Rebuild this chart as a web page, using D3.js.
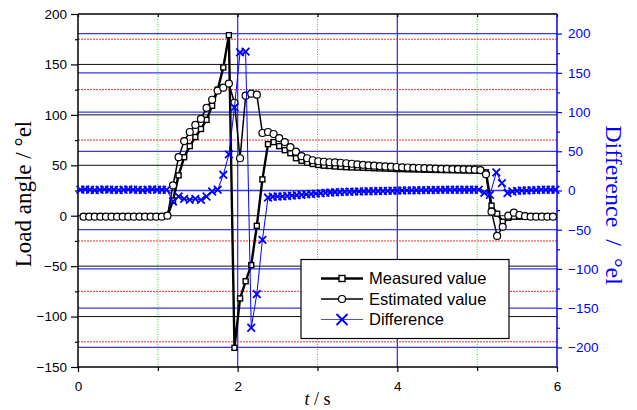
<!DOCTYPE html>
<html>
<head>
<meta charset="utf-8">
<script src="https://cdn.jsdelivr.net/npm/d3@7"></script>
<style>
  html, body { margin: 0; padding: 0; background: #fff; }
  svg { display: block; }
  .sans { font-family: "Liberation Sans", Arial, sans-serif; }
  .serif { font-family: "Liberation Serif", "Times New Roman", serif; }
</style>
</head>
<body>
<svg id="chart" width="637" height="410"></svg>
<script>
// Sample instants of the measured and estimated load angle (s)
const sampleTime = [
  0.07, 0.14, 0.21, 0.28, 0.35, 0.42, 0.49, 0.56, 0.63, 0.70,
  0.77, 0.84, 0.91, 0.98, 1.05, 1.12, 1.19, 1.26, 1.33, 1.40,
  1.47, 1.54, 1.61, 1.68, 1.75, 1.82, 1.89, 1.96, 2.03, 2.10,
  2.17, 2.24, 2.31, 2.38, 2.45, 2.52, 2.59, 2.66, 2.73, 2.80,
  2.87, 2.94, 3.01, 3.08, 3.15, 3.22, 3.29, 3.36, 3.43, 3.50,
  3.57, 3.64, 3.71, 3.78, 3.85, 3.92, 3.99, 4.06, 4.13, 4.20,
  4.27, 4.34, 4.41, 4.48, 4.55, 4.62, 4.69, 4.76, 4.83, 4.90,
  4.97, 5.04, 5.11, 5.18, 5.25, 5.32, 5.39, 5.46, 5.53, 5.60,
  5.67, 5.74, 5.81, 5.88, 5.95
];

// Measured load angle (°el)
const measuredValue = [
  -1, -1, -1, -1, -1, -1, -1, -1, -1, -1,
  -1, -1, -1, -1, -1, 0, 15, 40, 58, 69,
  78, 86, 95, 109, 125, 147, 179, -131, -82, -65,
  -49, -10, 36, 71, 73, 69, 65, 62, 57, 54.5,
  52.5, 51.3, 50.3, 49.6, 49.3, 48.8, 48.4, 48.1, 47.9, 47.7,
  47.5, 47.3, 47.1, 46.9, 46.7, 46.5, 46.3, 46.2, 46, 45.9,
  45.8, 45.6, 45.5, 45.4, 45.3, 45.2, 45.1, 45, 44.9, 44.8,
  44.7, 44.6, 43, 10, 2, -6, -2, -1, -1, -1,
  -1, -1, -1, -1, -1
];

// Estimated load angle (°el)
const estimatedValue = [
  -1, -1, -1, -1, -1, -1, -1, -1, -1, -1,
  -1, -1, -1, -1, -1, 0, 30, 58, 74, 83,
  90, 96, 107, 115, 124, 127, 131, 112, 57, 119,
  121, 120, 82, 83, 81, 77, 73, 68, 63.5, 59,
  57, 55, 54, 53.5, 53, 52.8, 52.5, 52, 51.5, 51,
  50.5, 50, 49.6, 49.2, 48.9, 48.6, 48.3, 48, 47.8, 47.5,
  47.3, 47.1, 46.9, 46.7, 46.5, 46.4, 46.2, 46.1, 46, 45.8,
  45.6, 45.3, 41, 4, -20, -11, 0, 3, 0.7, -0.5,
  -1, -1, -1, -1, -1
];

// Sample instants of the difference signal (s)
const diffTime = [
  0.03, 0.09, 0.15, 0.21, 0.27, 0.33, 0.39, 0.45, 0.51, 0.57,
  0.63, 0.69, 0.75, 0.81, 0.87, 0.93, 0.99, 1.05, 1.11,
  1.19, 1.26, 1.33, 1.40, 1.47, 1.54, 1.61, 1.68, 1.75, 1.82,
  1.89, 1.96, 2.03, 2.10, 2.17, 2.24, 2.31, 2.38,
  2.44, 2.50, 2.56, 2.62, 2.68, 2.74, 2.80, 2.86, 2.92, 2.98,
  3.04, 3.10, 3.16, 3.22, 3.28, 3.34, 3.40, 3.46, 3.52, 3.58,
  3.64, 3.70, 3.76, 3.82, 3.88, 3.94, 4.00, 4.06, 4.12, 4.18,
  4.24, 4.30, 4.36, 4.42, 4.48, 4.54, 4.60, 4.66, 4.72, 4.78,
  4.84, 4.90, 4.96, 5.02, 5.09, 5.16, 5.24, 5.31, 5.38, 5.44,
  5.50, 5.56, 5.62, 5.68, 5.74, 5.80, 5.86, 5.92, 5.98
];

// Difference between estimated and measured load angle (°el)
const diffValue = [
  1, 1.5, 1, 0.5, 1, 1.5, 1, 1, 0.5, 1,
  1.5, 1, 1, 0.5, 1, 1.5, 1, 1, 1,
  -14, -7.6, -10.6, -12, -10.6, -12, -7.6, -1.3, 1, 20,
  46, 106, 176, 177, -175, -132, -63, -9,
  -8, -7.6, -7.5, -7, -6.5, -6, -5.5, -5, -4.5, -4,
  -3.5, -3, -2.6, -2.3, -2, -1.8, -1.6, -1.4, -1.3, -1.1,
  -1, -0.8, -0.7, -0.6, -0.5, -0.3, -0.2, 0, 0.1, 0.2,
  0.3, 0.4, 0.5, 0.6, 0.7, 0.8, 0.9, 1, 1, 1,
  1, 1, 1, 1, -3, -5.5, 23, 9.4, -3.3, -1.3,
  -0.5, 0, 0, 0.5, 0.5, 1, 1, 1, 1
];

// Axis ticks
const xMajorTicks = [0, 2, 4, 6];
const xMinorTicks = [1, 3, 5];
const leftMajorTicks = [-150, -100, -50, 0, 50, 100, 150, 200];
const leftMinorTicks = [-125, -75, -25, 25, 75, 125, 175];
const rightMajorTicks = [-200, -150, -100, -50, 0, 50, 100, 150, 200];
const rightMinorTicks = [-175, -125, -75, -25, 25, 75, 125, 175];

const seriesNames = ["Measured value", "Estimated value", "Difference"];

const svg = d3.select("#chart");
const plot = { left: 78, right: 557, top: 14, bottom: 367 };

const x = d3.scaleLinear().domain([0, 6]).range([plot.left, plot.right]);
const yL = d3.scaleLinear().domain([-150, 200]).range([plot.bottom, plot.top]);
const yR = d3.scaleLinear().domain([-225, 225]).range([plot.bottom, plot.top]);

const blue = "#0000ff";

// ---- grid lines ----
const grid = svg.append("g");
// vertical: dotted green at odd seconds, solid blue at 2 s and 4 s
grid.selectAll(".vminor").data(xMinorTicks).join("line")
  .attr("x1", d => x(d)).attr("x2", d => x(d))
  .attr("y1", plot.top).attr("y2", plot.bottom)
  .attr("stroke", "#22e022").attr("stroke-width", 1).attr("stroke-dasharray", "1,1.5");
grid.selectAll(".vmajor").data([2, 4]).join("line")
  .attr("x1", d => x(d)).attr("x2", d => x(d))
  .attr("y1", plot.top).attr("y2", plot.bottom)
  .attr("stroke", "#3535ff").attr("stroke-width", 1.3);
// horizontal: red dotted at left minor ticks
grid.selectAll(".hminor").data(leftMinorTicks).join("line")
  .attr("x1", plot.left).attr("x2", plot.right)
  .attr("y1", d => yL(d)).attr("y2", d => yL(d))
  .attr("stroke", "#ff2a2a").attr("stroke-width", 1).attr("stroke-dasharray", "2,1");
// blue at right major ticks
grid.selectAll(".hright").data(rightMajorTicks).join("line")
  .attr("x1", plot.left).attr("x2", plot.right)
  .attr("y1", d => yR(d)).attr("y2", d => yR(d))
  .attr("stroke", "#3535ff").attr("stroke-width", 1.3);
// black at left major ticks
grid.selectAll(".hleft").data(leftMajorTicks.filter(d => d > -150 && d < 200)).join("line")
  .attr("x1", plot.left).attr("x2", plot.right)
  .attr("y1", d => yL(d)).attr("y2", d => yL(d))
  .attr("stroke", "#111").attr("stroke-width", 1);

// ---- axes ----
function styleAxis(g, color, fontSize) {
  g.select(".domain").remove();
  g.selectAll("line").attr("stroke", color).attr("stroke-width", 1.2);
  g.selectAll("text").attr("class", "sans").attr("fill", color).style("font-size", fontSize + "px");
}

// bottom
svg.append("g").attr("transform", `translate(0,${plot.bottom})`)
  .call(d3.axisBottom(x).tickValues(xMajorTicks).tickSize(5).tickPadding(9).tickFormat(d3.format("d")))
  .call(g => styleAxis(g, "#000", 13.5));
svg.append("g").attr("transform", `translate(0,${plot.bottom})`)
  .call(d3.axisBottom(x).tickValues(xMinorTicks).tickSize(4).tickFormat(""))
  .call(g => styleAxis(g, "#000", 13.5));
// top (inward ticks)
svg.append("g").attr("transform", `translate(0,${plot.top})`)
  .call(d3.axisBottom(x).tickValues(xMajorTicks.concat(xMinorTicks)).tickSize(3).tickFormat(""))
  .call(g => styleAxis(g, "#000", 13.5));

// left
svg.append("g").attr("transform", `translate(${plot.left},0)`)
  .call(d3.axisLeft(yL).tickValues(leftMajorTicks).tickSize(7).tickPadding(4).tickFormat(d3.format("d")))
  .call(g => styleAxis(g, "#000", 13.5));
svg.append("g").attr("transform", `translate(${plot.left},0)`)
  .call(d3.axisLeft(yL).tickValues(leftMinorTicks).tickSize(3).tickFormat(""))
  .call(g => styleAxis(g, "#000", 13.5));

// right
const rightAxis = svg.append("g").attr("transform", `translate(${plot.right},0)`)
  .call(d3.axisRight(yR).tickValues(rightMajorTicks).tickSize(5).tickPadding(6).tickFormat(d3.format("d")))
  .call(g => styleAxis(g, blue, 13.5));
rightAxis.selectAll("text").attr("text-anchor", "start");
svg.append("g").attr("transform", `translate(${plot.right},0)`)
  .call(d3.axisRight(yR).tickValues(rightMinorTicks).tickSize(3).tickFormat(""))
  .call(g => styleAxis(g, blue, 13.5));

// frame lines
svg.append("line").attr("x1", plot.left).attr("x2", plot.right).attr("y1", plot.top).attr("y2", plot.top)
  .attr("stroke", "#000").attr("stroke-width", 1.5);
svg.append("line").attr("x1", plot.left).attr("x2", plot.right).attr("y1", plot.bottom).attr("y2", plot.bottom)
  .attr("stroke", "#000").attr("stroke-width", 1.5);
svg.append("line").attr("x1", plot.left).attr("x2", plot.left).attr("y1", plot.top).attr("y2", plot.bottom)
  .attr("stroke", "#000").attr("stroke-width", 1.5);
svg.append("line").attr("x1", plot.right).attr("x2", plot.right).attr("y1", plot.top).attr("y2", plot.bottom)
  .attr("stroke", blue).attr("stroke-width", 1.5);

// ---- axis titles ----
svg.append("text").attr("class", "serif")
  .attr("transform", `translate(31,194) rotate(-90)`)
  .attr("text-anchor", "middle").style("font-size", "23px").attr("fill", "#000")
  .text("Load angle / °el");

svg.append("text").attr("class", "serif")
  .attr("transform", `translate(606,205) rotate(90)`)
  .attr("text-anchor", "middle").style("font-size", "24px").attr("fill", blue)
  .style("white-space", "pre")
  .text("Difference  /  °el");

const xTitle = svg.append("text").attr("class", "serif")
  .attr("x", (plot.left + plot.right) / 2).attr("y", 405)
  .attr("text-anchor", "middle").style("font-size", "18px").attr("fill", "#000")
  .style("white-space", "pre");
xTitle.append("tspan").style("font-style", "italic").text("t");
xTitle.append("tspan").text(" / s");

// ---- data ----
const measured = sampleTime.map((t, i) => ({ t, v: measuredValue[i] }));
const estimated = sampleTime.map((t, i) => ({ t, v: estimatedValue[i] }));
const difference = diffTime.map((t, i) => ({ t, v: diffValue[i] }));

const lineL = d3.line().x(d => x(d.t)).y(d => yL(d.v));
const lineR = d3.line().x(d => x(d.t)).y(d => yR(d.v));

const data = svg.append("g");

// measured: thick black line with open squares
data.append("path").datum(measured).attr("d", lineL)
  .attr("fill", "none").attr("stroke", "#000").attr("stroke-width", 2.4).attr("stroke-linejoin", "round");
// estimated: black line with open circles
data.append("path").datum(estimated).attr("d", lineL)
  .attr("fill", "none").attr("stroke", "#000").attr("stroke-width", 1.5).attr("stroke-linejoin", "round");

const sq = 5;
data.selectAll(".sq").data(measured).join("rect")
  .attr("x", d => x(d.t) - sq / 2).attr("y", d => yL(d.v) - sq / 2)
  .attr("width", sq).attr("height", sq)
  .attr("fill", "#fff").attr("stroke", "#000").attr("stroke-width", 1.4);

data.selectAll(".ci").data(estimated).join("circle")
  .attr("cx", d => x(d.t)).attr("cy", d => yL(d.v)).attr("r", 3.5)
  .attr("fill", "#fff").attr("stroke", "#000").attr("stroke-width", 1.2);

// difference: thin blue line with crosses
data.append("path").datum(difference).attr("d", lineR)
  .attr("fill", "none").attr("stroke", blue).attr("stroke-width", 1);

function cross(sel, cx, cy, h) {
  sel.append("path")
    .attr("d", `M${cx - h},${cy - h}L${cx + h},${cy + h}M${cx - h},${cy + h}L${cx + h},${cy - h}`)
    .attr("stroke", blue).attr("stroke-width", 1.8).attr("fill", "none");
}
const crosses = data.append("g");
difference.forEach(d => cross(crosses, x(d.t), yR(d.v), 3.8));

// ---- legend ----
const lg = svg.append("g");
lg.append("rect").attr("x", 301).attr("y", 259.5).attr("width", 208).attr("height", 79)
  .attr("fill", "#fff").attr("stroke", "#000").attr("stroke-width", 1.2);
const rows = [278.5, 299, 319.5];
const lx1 = 321, lx2 = 363, lmid = 342;

lg.append("line").attr("x1", lx1).attr("x2", lx2).attr("y1", rows[0]).attr("y2", rows[0])
  .attr("stroke", "#000").attr("stroke-width", 2.4);
lg.append("rect").attr("x", lmid - 3).attr("y", rows[0] - 3).attr("width", 6).attr("height", 6)
  .attr("fill", "#fff").attr("stroke", "#000").attr("stroke-width", 1.4);

lg.append("line").attr("x1", lx1).attr("x2", lx2).attr("y1", rows[1]).attr("y2", rows[1])
  .attr("stroke", "#000").attr("stroke-width", 1.5);
lg.append("circle").attr("cx", lmid).attr("cy", rows[1]).attr("r", 3.5)
  .attr("fill", "#fff").attr("stroke", "#000").attr("stroke-width", 1.2);

lg.append("line").attr("x1", lx1).attr("x2", lx2).attr("y1", rows[2]).attr("y2", rows[2])
  .attr("stroke", "#4a4aff").attr("stroke-width", 1.2);
cross(lg, lmid, rows[2], 5.5);

lg.selectAll(".lt").data(seriesNames).join("text")
  .attr("class", "sans")
  .attr("x", 369).attr("y", (d, i) => rows[i]).attr("dy", "0.36em")
  .style("font-size", "16.5px").attr("fill", "#000")
  .text(d => d);
</script>
</body>
</html>
